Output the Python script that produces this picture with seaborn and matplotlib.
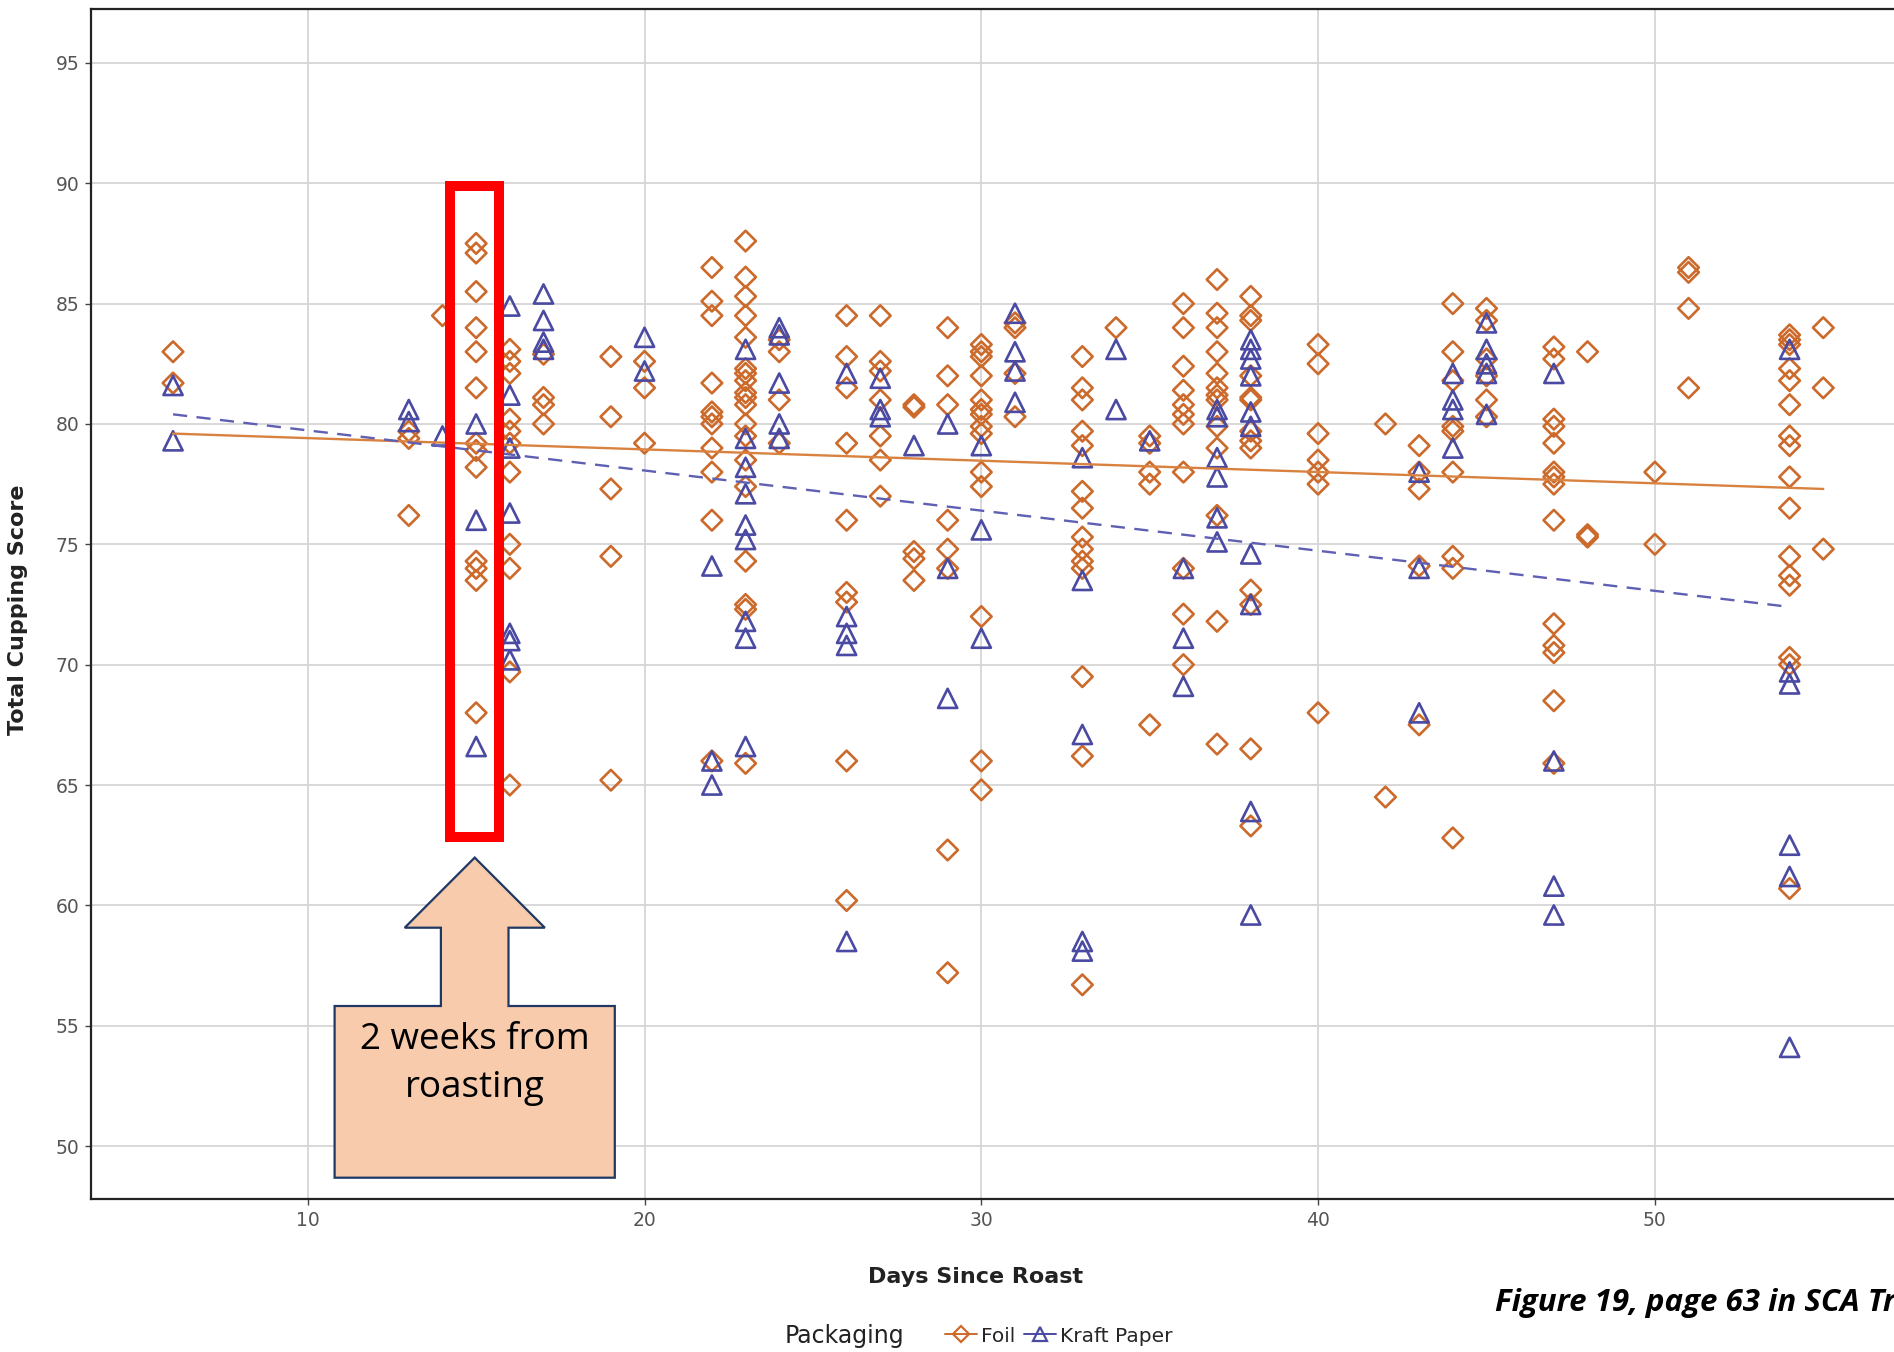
import numpy as np
import pandas as pd
import matplotlib.pyplot as plt
import matplotlib.patches as mpatches
from matplotlib.lines import Line2D
import seaborn as sns

# data: days since roast -> total cupping scores
foil_days = [6, 13, 14, 15, 16, 17, 19, 20, 22, 23, 24, 26, 27, 28, 29, 30, 31, 33,
             34, 35, 36, 37, 38, 40, 42, 43, 44, 45, 47, 48, 50, 51, 54, 55]
foil_scores = [
    [83.0, 81.7],
    [79.7, 79.4, 76.2],
    [84.5],
    [87.5, 87.1, 85.5, 84.0, 83.0, 81.5, 79.2, 78.9, 78.2, 74.3, 74.0, 73.5, 68.0],
    [83.1, 82.6, 82.1, 80.2, 79.7, 79.2, 78.0, 75.0, 74.0, 69.7, 65.0],
    [82.9, 81.1, 80.8, 80.0],
    [82.8, 80.3, 77.3, 74.5, 65.2],
    [82.6, 81.5, 79.2],
    [86.5, 85.1, 84.5, 81.7, 80.5, 80.3, 80.0, 79.0, 78.0, 76.0, 66.0],
    [87.6, 86.1, 85.3, 84.5, 83.6, 82.3, 82.1, 81.8, 81.3, 81.1, 80.8, 80.0, 79.5,
     78.5, 77.4, 74.3, 72.5, 72.3, 65.9],
    [83.5, 83.0, 81.0, 79.2],
    [84.5, 82.8, 81.5, 79.2, 76.0, 73.0, 72.6, 66.0, 60.2],
    [84.5, 82.6, 82.2, 81.0, 79.5, 78.5, 77.0],
    [80.8, 80.7, 74.7, 74.4, 73.5],
    [84.0, 82.0, 80.8, 76.0, 74.8, 74.0, 62.3, 57.2],
    [83.3, 83.0, 82.8, 82.0, 81.0, 80.6, 80.4, 79.9, 79.6, 78.0, 77.4, 72.0, 66.0, 64.8],
    [84.2, 84.0, 82.1, 80.3],
    [82.8, 81.5, 81.0, 79.7, 79.1, 77.2, 76.5, 75.3, 74.8, 74.3, 74.0, 69.5, 66.2, 56.7],
    [84.0],
    [79.5, 79.2, 78.0, 77.5, 67.5],
    [85.0, 84.0, 82.4, 81.4, 80.8, 80.4, 80.0, 78.0, 74.0, 72.1, 70.0],
    [86.0, 84.6, 84.0, 83.0, 82.1, 81.5, 81.2, 81.0, 79.9, 79.0, 76.2, 71.8, 66.7],
    [85.3, 84.5, 84.3, 82.0, 81.1, 81.0, 79.7, 79.3, 79.0, 73.1, 72.5, 66.5, 63.3],
    [83.3, 82.5, 79.6, 78.5, 78.0, 77.5, 68.0],
    [80.0, 64.5],
    [79.1, 78.0, 77.3, 74.1, 67.5],
    [85.0, 83.0, 81.8, 79.9, 79.7, 78.0, 74.5, 74.0, 62.8],
    [84.8, 84.3, 82.7, 82.0, 81.0, 80.3],
    [83.2, 82.7, 80.2, 79.9, 79.2, 78.0, 77.8, 77.5, 76.0, 71.7, 70.8, 70.5, 68.5, 65.9],
    [83.0, 75.4, 75.3],
    [78.0, 75.0],
    [86.5, 86.3, 84.8, 81.5],
    [83.7, 83.5, 83.3, 82.3, 81.8, 80.8, 79.5, 79.1, 77.8, 76.5, 74.5, 73.7, 73.3,
     70.3, 70.0, 60.7],
    [84.0, 81.5, 74.8],
]

kraft_days = [6, 13, 14, 15, 16, 17, 20, 22, 23, 24, 26, 27, 28, 29, 30, 31, 33,
              34, 35, 36, 37, 38, 43, 44, 45, 47, 54]
kraft_scores = [
    [81.6, 79.3],
    [80.6, 80.1],
    [79.5],
    [80.0, 76.0, 66.6],
    [84.9, 81.2, 79.0, 76.3, 71.3, 71.0, 70.2],
    [85.4, 84.3, 83.4, 83.1],
    [83.6, 82.2],
    [74.1, 66.0, 65.0],
    [83.1, 79.4, 78.2, 77.1, 75.8, 75.2, 71.8, 71.1, 66.6],
    [84.0, 83.7, 81.7, 80.0, 79.4],
    [82.1, 72.0, 71.3, 70.8, 58.5],
    [81.9, 80.6, 80.3],
    [79.1],
    [80.0, 74.0, 68.6],
    [79.1, 75.6, 71.1],
    [84.6, 83.0, 82.2, 80.9],
    [78.6, 73.5, 67.1, 58.5, 58.1],
    [83.1, 80.6],
    [79.3],
    [74.0, 71.1, 69.1],
    [80.6, 80.3, 78.6, 77.8, 76.1, 75.1],
    [83.5, 83.1, 82.7, 82.0, 80.5, 79.9, 74.6, 72.5, 63.9, 59.6],
    [78.0, 74.0, 68.0],
    [82.1, 81.0, 80.6, 79.0],
    [84.2, 83.1, 82.5, 82.1, 80.4],
    [82.1, 66.0, 60.8, 59.6],
    [83.1, 69.7, 69.2, 62.5, 61.2, 54.1],
]

# fitted lines as drawn in the figure (end points)
foil_fit_days = [6, 55]
foil_fit_scores = [79.6, 77.3]
kraft_fit_days = [6, 54]
kraft_fit_scores = [80.4, 72.4]

x_ticks = [10, 20, 30, 40, 50]
y_ticks = [50, 55, 60, 65, 70, 75, 80, 85, 90, 95]


def long_table(days, scores, label):
    rows = [(d, s) for d, col in zip(days, scores) for s in col]
    df = pd.DataFrame(rows, columns=["Days Since Roast", "Total Cupping Score"])
    df["Packaging"] = label
    return df


df = pd.concat([long_table(foil_days, foil_scores, "Foil"),
                long_table(kraft_days, kraft_scores, "Kraft Paper")])

foil_col = "#CC6A2C"
kraft_col = "#4A4AA3"

sns.set_theme(style="whitegrid")
plt.rcParams["font.family"] = ["DejaVu Sans"]

fig = plt.figure(figsize=(18.94, 13.52), dpi=100)
ax = fig.add_axes([0.0478, 0.1128, 0.9522, 0.8809])

sns.scatterplot(data=df[df.Packaging == "Foil"], x="Days Since Roast", y="Total Cupping Score",
                marker="D", s=110, facecolor="none", edgecolor=foil_col, linewidth=1.9, ax=ax, zorder=3)
sns.scatterplot(data=df[df.Packaging == "Kraft Paper"], x="Days Since Roast", y="Total Cupping Score",
                marker="^", s=190, facecolor="none", edgecolor=kraft_col, linewidth=1.9, ax=ax, zorder=3)

sns.lineplot(x=foil_fit_days, y=foil_fit_scores, color="#D9823F", linewidth=1.7, ax=ax, zorder=4)
sns.lineplot(x=kraft_fit_days, y=kraft_fit_scores, color="#5F5FB3", linewidth=1.7,
             linestyle=(0, (6, 4)), ax=ax, zorder=4)

ax.set_xlim(3.55, 57.1)
ax.set_ylim(47.78, 97.26)
ax.set_xticks(x_ticks)
ax.set_yticks(y_ticks)
ax.grid(True, color="#D6D6D6", linewidth=1.3)
ax.set_axisbelow(True)
for side in ["left", "bottom", "top"]:
    ax.spines[side].set_color("#222222")
    ax.spines[side].set_linewidth(1.6)
ax.spines["right"].set_visible(False)
ax.tick_params(axis="both", length=4, width=1, color="#444444", labelsize=13.5,
               labelcolor="#555555", pad=4, bottom=True, left=True)

ax.set_xlabel("Days Since Roast", fontsize=16, fontweight="bold", color="#222222")
ax.set_ylabel("Total Cupping Score", fontsize=16, fontweight="bold", color="#222222")
ax.xaxis.set_label_coords(0.491, -0.0565)
ax.yaxis.set_label_coords(-0.0348, 0.495)

# red highlight box around day 15
ax.add_patch(mpatches.Rectangle((14.23, 62.84), 1.44, 27.04, fill=False,
                                edgecolor="#FF0000", linewidth=7.2, zorder=5))

# up-arrow callout (figure pixel coords converted to fractions)
W, H = 1894, 1352
arrow_px = [(334.6, 1177.7), (334.6, 1006), (440.9, 1006), (440.9, 927.7), (404.7, 927.7),
            (474.7, 857.6), (544.8, 927.7), (508.5, 927.7), (508.5, 1006), (614.8, 1006),
            (614.8, 1177.7)]
arrow = mpatches.Polygon([(x / W, 1 - y / H) for x, y in arrow_px], closed=True,
                         facecolor="#F8CBAD", edgecolor="#1F3864", linewidth=1.6,
                         transform=fig.transFigure, zorder=6)
fig.patches.append(arrow)
fig.text(474.7 / W, 1 - 1064 / H, "2 weeks from\nroasting", ha="center", va="center",
         fontsize=26.5, family=["Open Sans", "DejaVu Sans"], color="black",
         linespacing=1.45, zorder=7)

fig.text(1495 / W, 1 - 1303 / H, "Figure 19, page 63 in SCA Transactions",
         ha="left", va="center", fontsize=22.5, fontweight="bold", style="italic",
         family=["Open Sans", "DejaVu Sans"], color="black")

# legend at bottom
fig.text(785 / W, 1 - 1336 / H, "Packaging", ha="left", va="center", fontsize=17, color="#222222")
handles = [
    Line2D([0], [0], color=foil_col, marker="D", markerfacecolor="none", markersize=8,
           markeredgewidth=1.6, linewidth=1.4),
    Line2D([0], [0], color=kraft_col, marker="^", markerfacecolor="none", markersize=10,
           markeredgewidth=1.6, linewidth=1.4),
]
fig.legend(handles, ["Foil", "Kraft Paper"], loc="center left",
           bbox_to_anchor=(945 / W, 1 - 1336 / H), ncol=2, frameon=False,
           fontsize=14.5, handlelength=1.6, handletextpad=0.2, columnspacing=0.4,
           borderpad=0, borderaxespad=0)

fig.savefig("out.png", dpi=100)
